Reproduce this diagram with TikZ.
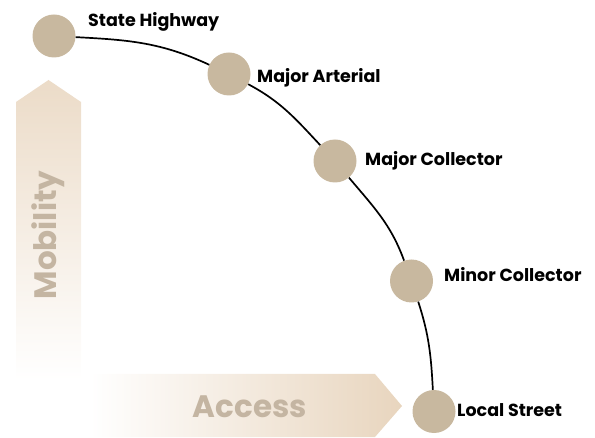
\documentclass[tikz,border=0pt]{standalone}
\usepackage{fontspec}
\setmainfont{Poppins}
\definecolor{dot}{HTML}{C8B89F}
\definecolor{tanlight}{HTML}{E8D5BE}
\definecolor{tantext}{HTML}{C4B5A2}
\tikzset{
  dotnode/.style={circle, fill=dot, minimum size=43pt, inner sep=0pt},
  lbl/.style={anchor=base west, font=\bfseries\fontsize{17.5}{17.5}\selectfont, text=black, inner sep=0pt},
  axislbl/.style={font=\bfseries\fontsize{31}{31}\selectfont, text=tantext, inner sep=0pt},
  link/.style={draw=black, line width=1.7pt}
}
\begin{document}
\begin{tikzpicture}[x=1pt,y=1pt]
\useasboundingbox (0,0) rectangle (595,437);
% axis arrows
\shade[top color=tanlight!85!white, bottom color=white]
  (16,57) -- (16,335) -- (48.5,357) -- (81,335) -- (81,57) -- cycle;
\shade[left color=white, right color=tanlight]
  (90,0) -- (375,0) -- (402,31) -- (375,63) -- (90,63) -- cycle;
\node[axislbl, rotate=90] (mob) at (48,202) {Mobility};
\node[axislbl] (acc) at (250,30) {Access};
% dots
\node[dotnode] (sh) at (54,401) {};
\node[dotnode] (ma) at (229,363) {};
\node[dotnode] (mc) at (335,276) {};
\node[dotnode] (mi) at (411.5,156) {};
\node[dotnode] (ls) at (434,25.5) {};
% connectors
\draw[link] (sh) to[out=-3, in=155] (ma);
\draw[link] (ma) to[out=-28, in=133] (mc);
\draw[link] (mc) to[out=-50, in=110] (mi);
\draw[link] (mi) to[out=-72, in=93] (ls);
% labels
\node[lbl] (tsh) at (88,410) {State Highway};
\node[lbl] (tma) at (257,354) {Major Arterial};
\node[lbl] (tmc) at (365,271) {Major Collector};
\node[lbl] (tmi) at (444,155) {Minor Collector};
\node[lbl] (tls) at (457,20) {Local Street};
\end{tikzpicture}
\end{document}
